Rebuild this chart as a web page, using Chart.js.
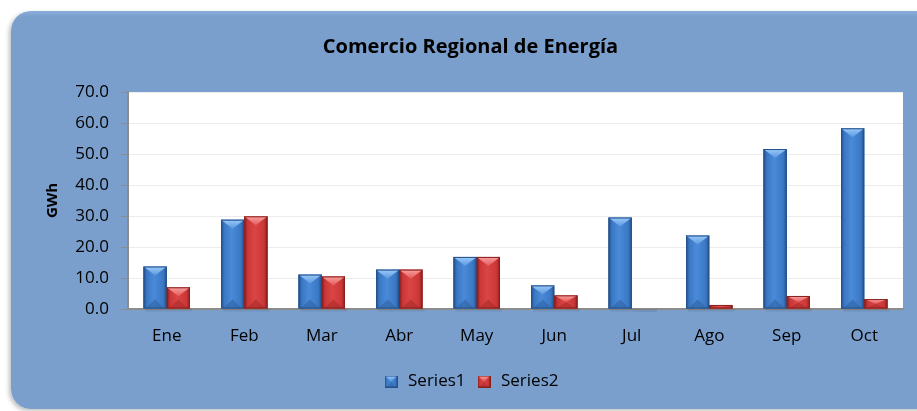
<!DOCTYPE html>
<html>
<head>
<meta charset="utf-8">
<script src="https://cdn.jsdelivr.net/npm/chart.js@4.4.1/dist/chart.umd.min.js"></script>
<style>
  html, body { margin: 0; padding: 0; background: #fff; }
  #wrap { position: relative; width: 917px; height: 411px; overflow: hidden; }
  #panel {
    position: absolute; left: 11px; top: 11px; width: 940px; height: 398px;
    border-radius: 20px;
    background: linear-gradient(#8aaedb 0px, #7a9fcc 6px, #7a9fcc 100%);
    box-shadow: -2px 2px 4px rgba(0,0,0,0.25);
  }
  canvas { position: absolute; left: 0; top: 0; }
</style>
</head>
<body>
<div id="wrap">
  <div id="panel"></div>
  <canvas id="chart" width="917" height="411"></canvas>
</div>
<script>
// datos del gráfico
const months = ["Ene", "Feb", "Mar", "Abr", "May", "Jun", "Jul", "Ago", "Sep", "Oct"];
const series1 = [13.7, 28.8, 11.1, 12.7, 16.8, 7.6, 29.5, 23.7, 51.6, 58.3];
const series2 = [7.0, 29.9, 10.5, 12.7, 16.8, 4.4, 0, 1.3, 4.2, 3.2];
const yTicks = [0, 10, 20, 30, 40, 50, 60, 70];

const FONT = "'Open Sans', sans-serif";

// paletas para el efecto biselado
const palettes = [
    { edge: '#24508a', mid: '#3a78c4', light: '#4a8ad8', topA: '#9ccaf8', topB: '#5a98e0', bottom: '#2f62a4' },
    { edge: '#86201f', mid: '#cc3636', light: '#d94646', topA: '#f8a0a0', topB: '#e45a5a', bottom: '#a82a2a' }
];

function drawBevel(ctx, l, r, t, b, p) {
    const w = r - l, h = b - t;
    if (h < 0.5 || w < 1) return;
    const g = ctx.createLinearGradient(l, 0, r, 0);
    g.addColorStop(0, p.edge);
    g.addColorStop(0.15, p.mid);
    g.addColorStop(0.45, p.light);
    g.addColorStop(0.85, p.mid);
    g.addColorStop(1, p.edge);
    ctx.fillStyle = g;
    ctx.fillRect(l, t, w, h);

    const d = Math.min(9, h / 2);
    // triángulo inferior
    ctx.fillStyle = p.bottom;
    ctx.globalAlpha = 0.6;
    ctx.beginPath();
    ctx.moveTo(l + 2, b); ctx.lineTo(r - 2, b); ctx.lineTo(l + w / 2, b - d);
    ctx.closePath(); ctx.fill();
    ctx.globalAlpha = 1;
    // triángulo superior (brillo)
    const tg = ctx.createLinearGradient(0, t, 0, t + d);
    tg.addColorStop(0, p.topA);
    tg.addColorStop(1, p.topB);
    ctx.fillStyle = tg;
    ctx.beginPath();
    ctx.moveTo(l, t); ctx.lineTo(r, t); ctx.lineTo(l + w / 2, t + d);
    ctx.closePath(); ctx.fill();
    // bordes
    ctx.strokeStyle = p.edge;
    ctx.lineWidth = 1;
    ctx.strokeRect(l + 0.5, t + 0.5, w - 1, h - 1);
}

function legendIcon(p) {
    const c = document.createElement('canvas');
    c.width = 13; c.height = 12;
    drawBevel(c.getContext('2d'), 0, 13, 0, 12, Object.assign({}, p));
    return c;
}

const plotBg = {
    id: 'plotBg',
    beforeDraw(chart) {
        const a = chart.chartArea, ctx = chart.ctx;
        ctx.save();
        ctx.fillStyle = '#ffffff';
        ctx.fillRect(a.left, a.top, a.right - a.left, a.bottom - a.top);
        ctx.restore();
    }
};

const bevelBars = {
    id: 'bevelBars',
    afterDatasetsDraw(chart) {
        const ctx = chart.ctx;
        ctx.save();
        chart.data.datasets.forEach((ds, i) => {
            const meta = chart.getDatasetMeta(i);
            meta.data.forEach(bar => {
                const { x, y, base, width } = bar.getProps(['x', 'y', 'base', 'width'], true);
                // sombra suave
                ctx.fillStyle = 'rgba(0,0,0,0.08)';
                ctx.fillRect(x - width / 2 + 2, base, width, 3);
                drawBevel(ctx, x - width / 2, x + width / 2, Math.min(y, base), Math.max(y, base), palettes[i]);
            });
        });
        ctx.restore();
    }
};

const ctx = document.getElementById('chart').getContext('2d');
new Chart(ctx, {
    type: 'bar',
    data: {
        labels: months,
        datasets: [
            { label: 'Series1', data: series1, backgroundColor: '#3a78c4', borderWidth: 0,
              pointStyle: legendIcon(palettes[0]) },
            { label: 'Series2', data: series2, backgroundColor: '#cc3636', borderWidth: 0,
              pointStyle: legendIcon(palettes[1]) }
        ]
    },
    options: {
        responsive: false,
        animation: false,
        layout: { padding: { left: 38, right: 14, top: 0, bottom: 11 } },
        datasets: { bar: { categoryPercentage: 0.6, barPercentage: 1.0 } },
        plugins: {
            title: {
                display: true,
                text: 'Comercio Regional de Energía',
                color: '#000',
                font: { family: FONT, size: 20, weight: 'bold' },
                padding: { top: 35, bottom: 33 }
            },
            legend: {
                position: 'bottom',
                labels: {
                    usePointStyle: true,
                    color: '#000',
                    font: { family: FONT, size: 17 },
                    padding: 10
                }
            },
            tooltip: { enabled: false }
        },
        scales: {
            x: {
                grid: { display: false, drawTicks: false },
                border: { color: '#8c8c8c', width: 2 },
                ticks: { color: '#000', font: { family: FONT, size: 17 }, padding: 17 },
                afterFit(scale) { scale.height = 54; }
            },
            y: {
                min: 0, max: 70,
                afterBuildTicks(scale) { scale.ticks = yTicks.map(v => ({ value: v })); },
                grid: { color: '#ececec', tickColor: '#8c8c8c', tickLength: 7 },
                border: { color: '#8c8c8c', width: 2 },
                ticks: {
                    color: '#000', font: { family: FONT, size: 17 }, padding: 12,
                    callback: v => v.toFixed(1)
                },
                title: {
                    display: true, text: 'GWh', color: '#000',
                    font: { family: FONT, size: 15, weight: 'bold' },
                    padding: { top: 6, bottom: 0 }
                },
                afterFit(scale) { scale.width = 90; }
            }
        }
    },
    plugins: [plotBg, bevelBars]
});
</script>
</body>
</html>
